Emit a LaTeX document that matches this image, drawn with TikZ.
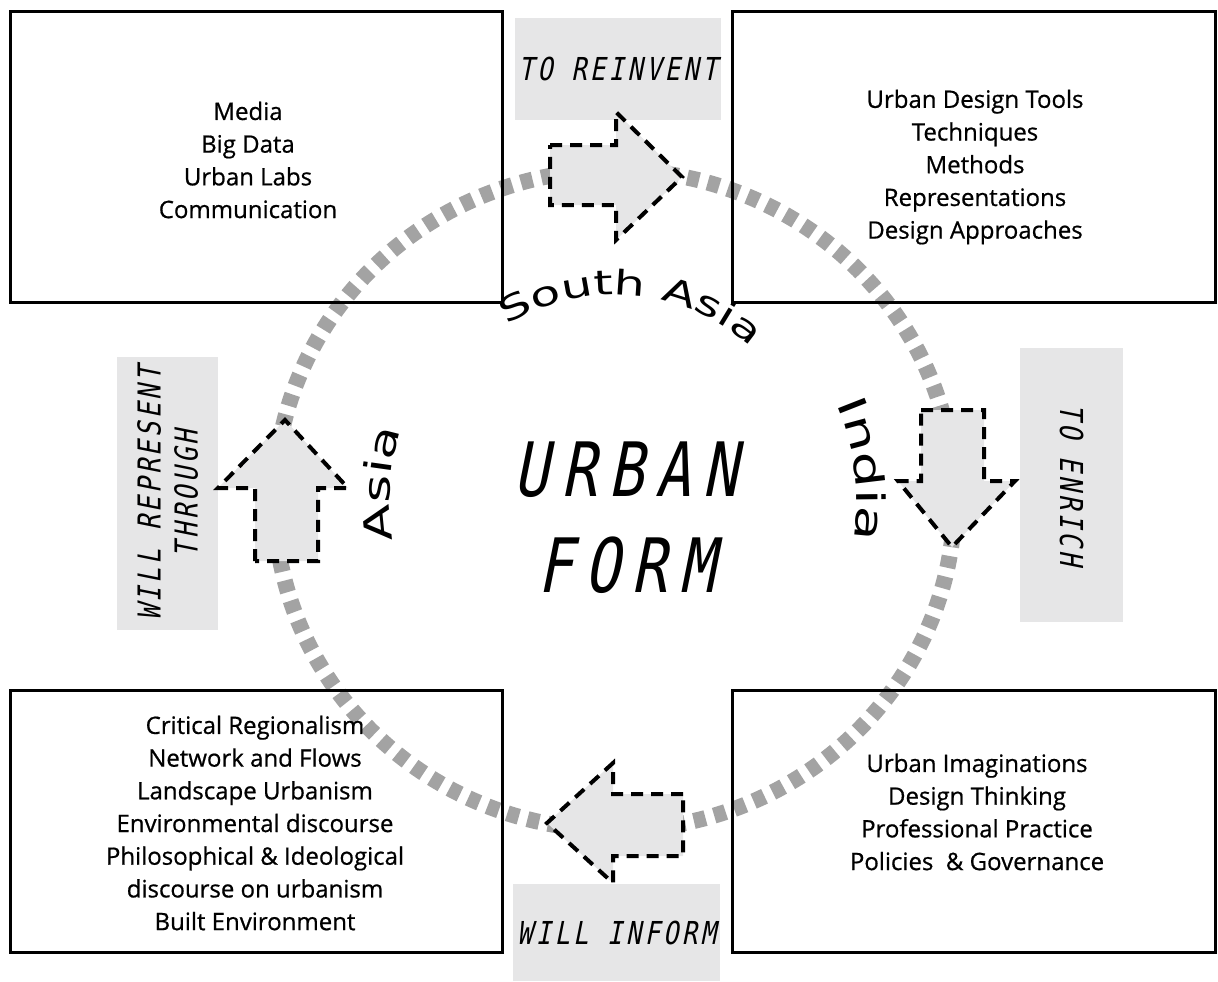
\documentclass[tikz,border=0pt]{standalone}
\usepackage{fontspec}
\usetikzlibrary{decorations.text}
\setmainfont{Open Sans}
\newfontfamily\listfont[FakeBold=0.7]{Open Sans}
\newfontfamily\stencil[FakeSlant=0.2,FakeStretch=0.8,LetterSpace=11]{DejaVu Sans Mono}
\newfontfamily\bigstencil[FakeSlant=0.2,FakeStretch=0.78,LetterSpace=16]{DejaVu Sans Mono}
\newfontfamily\widesans[FakeStretch=1.45]{DejaVu Sans}
\definecolor{tagfill}{HTML}{E6E6E7}
\definecolor{ringgray}{HTML}{A3A3A3}
\tikzstyle{frame}=[draw=black,line width=1.5pt]
\tikzstyle{itemlist}=[align=center,inner sep=0pt,font=\listfont\fontsize{12}{16.35}\selectfont]
\tikzstyle{tagbox}=[fill=tagfill,inner sep=0pt,font=\stencil\fontsize{15.8}{18.5}\selectfont]
\tikzstyle{blockarrow}=[draw=black,fill=tagfill,line width=2pt,dash pattern=on 6pt off 4pt]
\tikzstyle{dashring}=[draw=ringgray,line width=8pt,dash pattern=on 6pt off 4.5pt]

\begin{document}
\begin{tikzpicture}[x=0.5pt,y=0.5pt]
    \useasboundingbox (0,0) rectangle (1218,-981);
    % ring
    \draw[dashring] (614.5,-500) ellipse [x radius=340, y radius=330];

    % frames
    \draw[frame] (10,-11) rectangle (502,-302);
    \draw[frame] (732,-11) rectangle (1215,-302);
    \draw[frame] (10,-690) rectangle (502,-952);
    \draw[frame] (732,-690) rectangle (1215,-952);

    \node[itemlist] (media) at (248,-160) {Media\\Big Data\\Urban Labs\\Communication};
    \node[itemlist] (tools) at (975,-167) {Urban Design Tools\\Techniques\\Methods\\Representations\\Design Approaches};
    \node[itemlist] (theory) at (255,-823) {Critical Regionalism\\Network and Flows\\Landscape Urbanism\\Environmental discourse\\Philosophical \& Ideological\\discourse on urbanism\\Built Environment};
    \node[itemlist] (practice) at (977,-812) {Urban Imaginations\\Design Thinking\\Professional Practice\\Policies~ \& Governance};

    \node[font=\bigstencil\fontsize{37.5}{48}\selectfont,align=center] (form) at (626,-518) {URBAN\\FORM};

    % names along the ring
    \path[decorate,decoration={text along path,text align=center,text={|\widesans\fontsize{17}{20}\selectfont|South Asia}}]
        (614.5,-500) ++(145:205) arc[start angle=145,end angle=25,radius=205];
    \path[decorate,decoration={text along path,text align=center,text={|\widesans\fontsize{19.5}{22}\selectfont|India}}]
        (614.5,-500) ++(37:242) arc[start angle=37,end angle=-23,radius=242];
    \path[decorate,decoration={text along path,text align=center,text={|\widesans\fontsize{18.5}{21}\selectfont|Asia}}]
        (614.5,-500) ++(206:225) arc[start angle=206,end angle=146,radius=225];

    % tags
    \node[tagbox,minimum width=103pt,minimum height=51pt] (reinvent) at (618,-69) {TO REINVENT};
    \node[tagbox,rotate=-90,minimum width=137pt,minimum height=51.5pt] (enrich) at (1071.5,-485) {TO ENRICH};
    \node[tagbox,rotate=90,minimum width=136.5pt,minimum height=50.5pt,align=center] (represent) at (167.5,-493.5) {WILL REPRESENT\\THROUGH};
    \node[tagbox,minimum width=103.5pt,minimum height=48.5pt] (inform) at (616.5,-932.5) {WILL INFORM};

    % block arrows
    \draw[blockarrow] (550,-145) -- (616,-145) -- (616,-112) -- (682,-177) -- (616,-240) -- (616,-205) -- (550,-205) -- cycle;
    \draw[blockarrow] (921,-410) -- (984,-410) -- (984,-481) -- (1015,-481) -- (952,-547) -- (898,-481) -- (921,-481) -- cycle;
    \draw[blockarrow] (255,-561) -- (255,-488) -- (218,-488) -- (285,-420) -- (348,-488) -- (318,-488) -- (318,-561) -- cycle;
    \draw[blockarrow] (683,-794) -- (613,-794) -- (613,-763) -- (547,-823) -- (613,-883) -- (613,-856) -- (683,-856) -- cycle;
\end{tikzpicture}
\end{document}
